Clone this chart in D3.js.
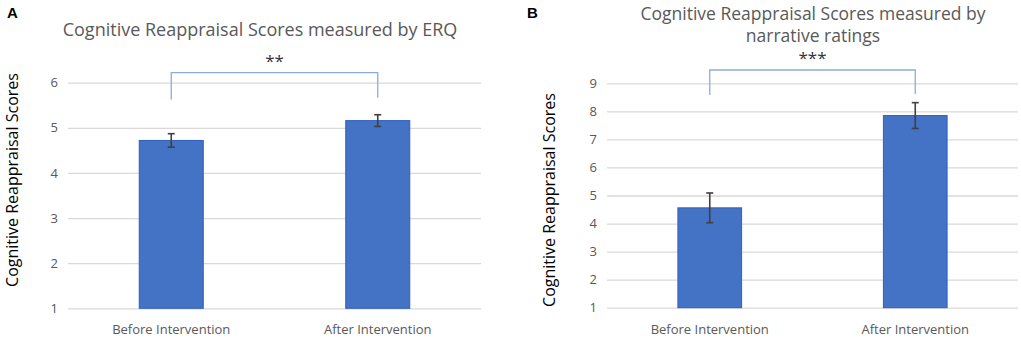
<!DOCTYPE html>
<html lang="en">
<head>
<meta charset="utf-8" />
<title>Cognitive reappraisal scores</title>
<script src="https://d3js.org/d3.v7.min.js"></script>
<style>
body { margin: 0; background: #fff; }
svg { display: block; }
text { font-family: "Open Sans", Lato, sans-serif; }
.tick text { fill: #595959; font-size: 13px; }
</style>
</head>
<body>
<svg width="1021" height="339"></svg>
<script>

//	data
var categories = ["Before Intervention", "After Intervention"];
var erqMeans = [4.72, 5.16];
var erqErrors = [0.15, 0.13];
var erqTicks = [1, 2, 3, 4, 5, 6];
var narrMeans = [4.56, 7.85];
var narrErrors = [0.53, 0.46];
var narrTicks = [1, 2, 3, 4, 5, 6, 7, 8, 9];

var svg = d3.select("svg");

//	panel layout
var panels = [
	{
		letter: "A", lx: 7, ly: 18,
		title: ["Cognitive Reappraisal Scores measured by ERQ"], tx: 260, ty: 36, tsize: 18,
		means: erqMeans, errors: erqErrors, ticks: erqTicks,
		left: 68, right: 481, top: 82.7, bottom: 308.3,
		yTitleX: 18, yTitleY: 180,
		stars: "**", bracketY: 72.7, bracketDrop: [27, 25]
	},
	{
		letter: "B", lx: 527, ly: 18,
		title: ["Cognitive Reappraisal Scores measured by", "narrative ratings"], tx: 813, ty: 19.5, tsize: 17.5,
		means: narrMeans, errors: narrErrors, ticks: narrTicks,
		left: 607, right: 1018, top: 83.3, bottom: 307.7,
		yTitleX: 555, yTitleY: 200,
		stars: "***", bracketY: 70, bracketDrop: [25, 24]
	}
];

panels.forEach(function(p) {
	var g = svg.append("g");

	var x = d3.scaleBand()
		.domain(categories)
		.range([p.left, p.right])
		.paddingInner(0.69)
		.paddingOuter(0.345);

	var y = d3.scaleLinear()
		.domain([p.ticks[0], p.ticks[p.ticks.length - 1]])
		.range([p.bottom, p.top]);

	//	gridlines + tick labels
	var yAxis = g.append("g")
		.attr("transform", "translate(" + p.left + ",0)")
		.call(d3.axisLeft(y).tickValues(p.ticks).tickFormat(d3.format("d"))
			.tickSize(-(p.right - p.left)).tickPadding(10));
	yAxis.select(".domain").remove();
	yAxis.selectAll(".tick line").attr("stroke", "#d9d9d9").attr("stroke-width", 1.3);

	//	bars
	g.selectAll(".bar")
		.data(p.means)
		.enter().append("rect")
		.attr("x", function(d, i) { return x(categories[i]); })
		.attr("width", x.bandwidth())
		.attr("y", function(d) { return y(d); })
		.attr("height", function(d) { return y(p.ticks[0]) - y(d); })
		.attr("fill", "#4472c4")
		.attr("stroke", "#2f5fbf")
		.attr("stroke-width", 1);

	//	error bars
	var eb = g.selectAll(".err")
		.data(p.means)
		.enter().append("g")
		.attr("stroke", "#404040")
		.attr("stroke-width", 1.6);
	eb.append("line")
		.attr("x1", function(d, i) { return x(categories[i]) + x.bandwidth() / 2; })
		.attr("x2", function(d, i) { return x(categories[i]) + x.bandwidth() / 2; })
		.attr("y1", function(d, i) { return y(d + p.errors[i]); })
		.attr("y2", function(d, i) { return y(d - p.errors[i]); });
	[1, -1].forEach(function(s) {
		eb.append("line")
			.attr("x1", function(d, i) { return x(categories[i]) + x.bandwidth() / 2 - 3.5; })
			.attr("x2", function(d, i) { return x(categories[i]) + x.bandwidth() / 2 + 3.5; })
			.attr("y1", function(d, i) { return y(d + s * p.errors[i]); })
			.attr("y2", function(d, i) { return y(d + s * p.errors[i]); });
	});

	//	x labels
	g.selectAll(".xlab")
		.data(categories)
		.enter().append("text")
		.attr("x", function(d) { return x(d) + x.bandwidth() / 2; })
		.attr("y", 334)
		.attr("text-anchor", "middle")
		.attr("fill", "#595959")
		.style("font-size", "13px")
		.text(function(d) { return d; });

	//	significance bracket
	var c0 = x(categories[0]) + x.bandwidth() / 2,
		c1 = x(categories[1]) + x.bandwidth() / 2;
	g.append("path")
		.attr("d", "M" + c0 + "," + (p.bracketY + p.bracketDrop[0]) + "V" + p.bracketY +
			"H" + c1 + "V" + (p.bracketY + p.bracketDrop[1]))
		.attr("fill", "none")
		.attr("stroke", "#8eaadb")
		.attr("stroke-width", 1.3);
	g.append("text")
		.attr("x", (c0 + c1) / 2)
		.attr("y", p.bracketY - 6)
		.attr("text-anchor", "middle")
		.attr("fill", "#333")
		.style("font-size", "17px")
		.text(p.stars);

	//	titles
	p.title.forEach(function(t, i) {
		g.append("text")
			.attr("x", p.tx)
			.attr("y", p.ty + i * 22.5)
			.attr("text-anchor", "middle")
			.attr("fill", "#595959")
			.style("font-size", p.tsize + "px")
			.text(t);
	});

	g.append("text")
		.attr("transform", "translate(" + p.yTitleX + "," + p.yTitleY + ") rotate(-90)")
		.attr("text-anchor", "middle")
		.attr("fill", "#000")
		.style("font-size", "16px")
		.text("Cognitive Reappraisal Scores");

	g.append("text")
		.attr("x", p.lx)
		.attr("y", p.ly)
		.attr("fill", "#000")
		.style("font-family", "Arial, 'Liberation Sans', sans-serif")
		.style("font-weight", "bold")
		.style("font-size", "15px")
		.text(p.letter);
});

</script>
</body>
</html>
